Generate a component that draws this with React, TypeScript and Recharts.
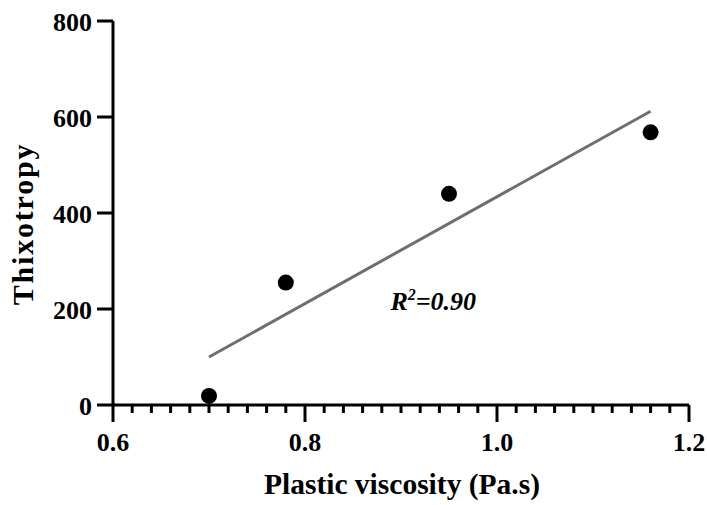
import React from "react";
import {
  ScatterChart,
  Scatter,
  XAxis,
  YAxis,
  ReferenceLine,
  ReferenceDot,
  Label,
} from "recharts";

// ---- data ----
const viscosity = [0.7, 0.78, 0.95, 1.16];
const thixotropy = [19, 255, 440, 568];
const fitX = [0.7, 1.16];
const fitY = [100, 612];
const r2Text = "0.90";
const r2Anchor = { x: 0.889, y: 198 };

const xMajorTicks = [0.6, 0.8, 1.0, 1.2];
const xAllTicks = [
  0.6, 0.62, 0.64, 0.66, 0.68, 0.7, 0.72, 0.74, 0.76, 0.78,
  0.8, 0.82, 0.84, 0.86, 0.88, 0.9, 0.92, 0.94, 0.96, 0.98,
  1.0, 1.02, 1.04, 1.06, 1.08, 1.1, 1.12, 1.14, 1.16, 1.18, 1.2,
];
const yTicks = [0, 200, 400, 600, 800];
const xTitle = "Plastic viscosity (Pa.s)";
const yTitle = "Thixotropy";

const points = viscosity.map((v, i) => ({ x: v, y: thixotropy[i] }));
const segment = fitX.map((v, i) => ({ x: v, y: fitY[i] }));

const FONT = "'Liberation Serif', 'Times New Roman', serif";

const XTick = (props: any) => {
  const { x, y, payload } = props;
  const v = payload.value as number;
  const major = xMajorTicks.some((m) => Math.abs(m - v) < 1e-6);
  return (
    <g>
      <line x1={x} x2={x} y1={y} y2={y + (major ? 17 : 8)} stroke="#000" strokeWidth={3} />
      {major && (
        <text
          x={x}
          y={y + 46}
          textAnchor="middle"
          fontFamily={FONT}
          fontWeight="bold"
          fontSize={26}
          fill="#000"
        >
          {v.toFixed(1)}
        </text>
      )}
    </g>
  );
};

const YTick = (props: any) => {
  const { x, y, payload } = props;
  return (
    <g>
      <line x1={x - 16} x2={x} y1={y} y2={y} stroke="#000" strokeWidth={3} />
      <text
        x={x - 21}
        y={y + 9.5}
        textAnchor="end"
        fontFamily={FONT}
        fontWeight="bold"
        fontSize={26}
        fill="#000"
      >
        {payload.value}
      </text>
    </g>
  );
};

const YTitle = (props: any) => {
  const vb = props.viewBox || {};
  const cy = vb.y + vb.height / 2 + 11;
  const cx = 33;
  return (
    <text
      x={cx}
      y={cy}
      transform={`rotate(-90, ${cx}, ${cy})`}
      textAnchor="middle"
      fontFamily={FONT}
      fontWeight="bold"
      fontSize={30}
      letterSpacing={1.8}
      fill="#000"
    >
      {yTitle}
    </text>
  );
};

const XTitle = (props: any) => {
  const vb = props.viewBox || {};
  const cx = vb.x + vb.width / 2 + 1;
  const cy = vb.y + 89;
  return (
    <text
      x={cx}
      y={cy}
      textAnchor="middle"
      fontFamily={FONT}
      fontWeight="bold"
      fontSize={29.5}
      fill="#000"
    >
      {xTitle}
    </text>
  );
};

const R2Shape = (props: any) => {
  const { cx, cy } = props;
  return (
    <text
      x={cx}
      y={cy}
      textAnchor="start"
      fontFamily={FONT}
      fontWeight="bold"
      fontStyle="italic"
      fontSize={26}
      fill="#000"
    >
      <tspan>R</tspan>
      <tspan dy={-10} fontSize={16}>2</tspan>
      <tspan dy={10}>={r2Text}</tspan>
    </text>
  );
};

const Dot = (props: any) => <circle cx={props.cx} cy={props.cy} r={8} fill="#000" />;

export default function App() {
  return (
    <div style={{ position: "absolute", left: 0, top: 0, background: "#fff" }}>
      <ScatterChart
        width={707}
        height={505}
        margin={{ top: 21, right: 18, bottom: 0, left: 0 }}
      >
        <XAxis
          type="number"
          dataKey="x"
          domain={[0.6, 1.2]}
          ticks={xAllTicks}
          interval={0}
          tickSize={0}
          tickMargin={0}
          tickLine={false}
          axisLine={{ stroke: "#000", strokeWidth: 3 }}
          tick={<XTick />}
          height={100}
          allowDataOverflow
        >
          <Label content={<XTitle />} />
        </XAxis>
        <YAxis
          type="number"
          dataKey="y"
          domain={[0, 800]}
          ticks={yTicks}
          interval={0}
          tickSize={0}
          tickMargin={0}
          tickLine={false}
          axisLine={{ stroke: "#000", strokeWidth: 3 }}
          tick={<YTick />}
          width={113}
          allowDataOverflow
        >
          <Label content={<YTitle />} />
        </YAxis>
        <ReferenceLine
          segment={segment}
          stroke="#6e6e6e"
          strokeWidth={3}
          ifOverflow="visible"
        />
        <ReferenceDot
          x={r2Anchor.x}
          y={r2Anchor.y}
          r={0}
          ifOverflow="visible"
          shape={<R2Shape />}
        />
        <Scatter data={points} fill="#000" shape={<Dot />} isAnimationActive={false} />
      </ScatterChart>
    </div>
  );
}
